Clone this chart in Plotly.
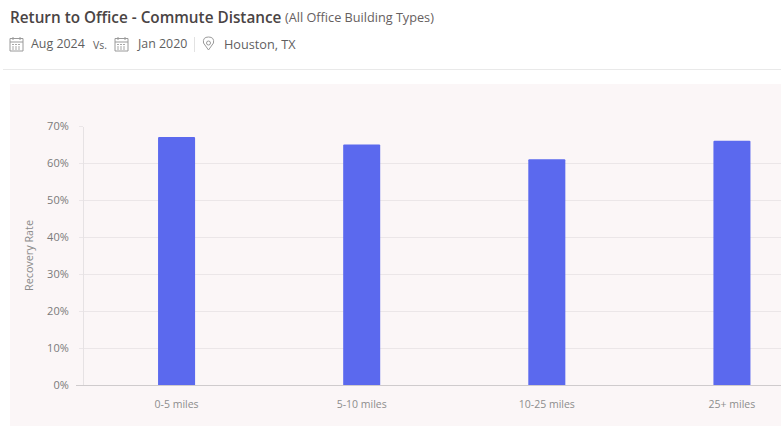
import plotly.graph_objects as go

categories = ["0-5 miles", "5-10 miles", "10-25 miles", "25+ miles"]
recovery_rate = [67, 65, 61, 66]
y_ticks = [0, 10, 20, 30, 40, 50, 60, 70]
y_tick_labels = ["0%", "10%", "20%", "30%", "40%", "50%", "60%", "70%"]

W, H = 781, 426
L, T, B = 84, 126, 41
px = lambda v: (v - L) / (W - L)
py = lambda v: 1 - (v - T) / (H - T - B)

fig = go.Figure(go.Bar(
    x=categories, y=recovery_rate, width=0.2,
    marker=dict(color="#5b69ee", line=dict(width=0), cornerradius=1),
    hovertemplate="%{x}: %{y}%<extra></extra>",
))


def rect(x0, y0, x1, y1, fill=None, line=None, lw=1):
    return dict(type="rect", xref="paper", yref="paper", layer="below",
                x0=px(x0), x1=px(x1), y0=py(y0), y1=py(y1),
                fillcolor=fill or "rgba(0,0,0,0)",
                line=dict(color=line or "rgba(0,0,0,0)", width=lw if line else 0))


def seg(x0, y0, x1, y1, color, lw=1, layer="below"):
    return dict(type="line", xref="paper", yref="paper", layer=layer,
                x0=px(x0), x1=px(x1), y0=py(y0), y1=py(y1),
                line=dict(color=color, width=lw))


def calendar(x, y):
    c = "#9a9a9a"
    items = [rect(x, y + 1.5, x + 13, y + 14, None, c, 1), seg(x, y + 5, x + 13, y + 5, c),
             seg(x + 3, y, x + 3, y + 3, c), seg(x + 10, y, x + 10, y + 3, c)]
    for row in (7.5, 10, 12):
        items.append(dict(type="line", xref="paper", yref="paper", layer="below",
                          x0=px(x + 2), x1=px(x + 11), y0=py(y + row), y1=py(y + row),
                          line=dict(color="#a8a8a8", width=1, dash="2px,1px")))
    return items


shapes = [
    rect(10, 84, 781, 426, "#fbf6f7"),
    seg(3, 69.5, 781, 69.5, "#e9e9e9"),
    seg(194.5, 37, 194.5, 52, "#e2e2e2"),
    seg(83.5, 127, 83.5, 385, "#e6e2e4", 1),
    seg(76, 385.5, 781, 385.5, "#cfcbcd", 1, "above"),
]
shapes += calendar(10, 37) + calendar(115, 37)
shapes.append(dict(type="path", xref="paper", yref="paper", layer="below",
                   path=(f"M {px(208.5)} {py(50)} L {px(203.5)} {py(43)} "
                         f"Q {px(202.5)} {py(37)} {px(208.5)} {py(37)} "
                         f"Q {px(214.5)} {py(37)} {px(213.5)} {py(43)} Z"),
                   line=dict(color="#9a9a9a", width=1)))
shapes.append(dict(type="circle", xref="paper", yref="paper", layer="below",
                   x0=px(206.5), x1=px(210.5), y0=py(45), y1=py(41),
                   line=dict(color="#9a9a9a", width=1)))


def label(x, y, text, size, color, weight=400):
    return dict(xref="paper", yref="paper", x=px(x), y=py(y), text=text, showarrow=False,
                xanchor="left", yanchor="middle", align="left", borderpad=0, xshift=-1,
                font=dict(family="Open Sans", size=size, color=color, weight=weight))


annotations = [
    label(10, 17, "Return to Office - Commute Distance", 15.3, "#4a4444", 600),
    label(285, 17, "(All Office Building Types)", 12.7, "#666060"),
    label(31, 44, "Aug 2024", 12.4, "#5f5f5f"),
    label(93, 44.5, "Vs.", 10.5, "#5f5f5f"),
    label(136.5, 44, "Jan 2020", 12.4, "#5f5f5f"),
    label(224, 44, "Houston, TX", 12.7, "#5f5f5f"),
]

fig.update_layout(
    width=W, height=H, autosize=False,
    margin=dict(l=L, r=0, t=T, b=B, pad=0),
    paper_bgcolor="#ffffff", plot_bgcolor="rgba(0,0,0,0)",
    font=dict(family="Open Sans", color="#888888"),
    showlegend=False, shapes=shapes, annotations=annotations, bargap=0.8,
    xaxis=dict(
        type="category", categoryorder="array", categoryarray=categories,
        range=[-0.5, 3.265], showgrid=False, zeroline=False, showline=False,
        ticks="", tickfont=dict(size=10.5, color="#8d8d8d"), ticklabelstandoff=11,
    ),
    yaxis=dict(
        range=[0, 70], tickvals=y_ticks, ticktext=y_tick_labels,
        showgrid=True, gridcolor="#ebe6e8", gridwidth=1, zeroline=False, showline=False,
        ticks="outside", ticklen=4, tickcolor="#ebe6e8", tickwidth=1,
        tickfont=dict(size=11, color="#7a7a7a"), ticklabelstandoff=8,
        title=dict(text="Recovery Rate", font=dict(size=10.8, color="#8a8a8a"), standoff=11),
    ),
)

fig.write_html("out.html", config={"displayModeBar": False},
               post_script="document.body.style.margin='0';document.documentElement.style.overflow='hidden';")
